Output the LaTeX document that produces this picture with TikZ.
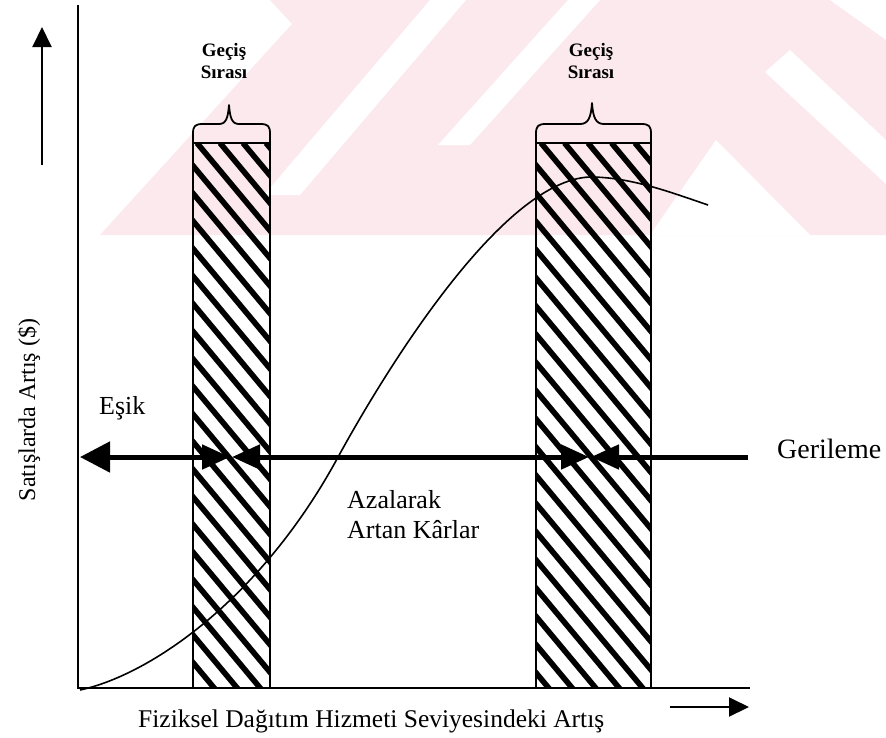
\documentclass[tikz,border=0pt]{standalone}
\usepackage{fontspec}
\setmainfont{Liberation Serif}
\usetikzlibrary{arrows.meta}
\definecolor{wmpink}{RGB}{252,233,237}
\tikzset{
  axisline/.style={line width=2.6pt},
  barframe/.style={line width=2.6pt},
  hatchline/.style={line width=5.6pt},
  bracepath/.style={line width=1.8pt, line join=round},
  mainarrow/.style={line width=5pt},
  smallarrow/.style={line width=2pt, -{Triangle[length=20pt,width=19pt]}},
  curveline/.style={line width=1.6pt},
  lbl/.style={font=\fontsize{26}{30}\selectfont, inner sep=0pt},
  smalllbl/.style={font=\bfseries\fontsize{19}{22}\selectfont, align=center, inner sep=0pt},
}
\begin{document}
\begin{tikzpicture}[x=1pt,y=-1pt]
\useasboundingbox (0,0) rectangle (886,737);
\fill[white] (0,0) rectangle (886,737);

% faint background emblem
\fill[wmpink] (100,235) -- (292,24) -- (270,0) -- (886,0) -- (886,235) -- cycle;
\fill[white] (430,0) -- (466,0) -- (300,195) -- (264,195) -- cycle;
\fill[white] (568,0) -- (600,0) -- (470,145) -- (438,145) -- cycle;
\fill[white] (716,140) -- (810,235) -- (650,235) -- cycle;
\fill[white] (765,72) -- (790,50) -- (886,140) -- (886,184) -- cycle;
\fill[white] (830,0) -- (886,0) -- (886,40) -- cycle;

% axes
\coordinate (O) at (78,688);
\coordinate (ytop) at (78,5);
\coordinate (xend) at (750,688);
\draw[axisline] (ytop) -- (O) -- (xend);

% direction arrows
\coordinate (ya) at (42,165);
\coordinate (yb) at (42,27);
\draw[smallarrow] (ya) -- (yb);
\coordinate (xa) at (670,707);
\coordinate (xb) at (749,707);
\draw[smallarrow] (xa) -- (xb);

% hatched bands
\begin{scope}
  \clip (193,143) rectangle (270,688);
  \foreach \i in {-25,...,4}
    \draw[hatchline] ({197+\i*23},143) -- ++(600,720);
\end{scope}
\draw[barframe] (193,688) -- (193,143) -- (270,143) -- (270,688);
\begin{scope}
  \clip (536,143) rectangle (651,688);
  \foreach \i in {-25,...,6}
    \draw[hatchline] ({541+\i*23.5},143) -- ++(600,720);
\end{scope}
\draw[barframe] (536,688) -- (536,143) -- (651,143) -- (651,688);

% braces above the bands
\draw[bracepath] (193,143) -- (193,134) .. controls (193,126) and (195,124) .. (203,124)
  -- (219,124) .. controls (226,124) and (228,118) .. (229,105)
  .. controls (230,118) and (232,124) .. (239,124) -- (260,124)
  .. controls (268,124) and (270,126) .. (270,134) -- (270,143);
\draw[bracepath] (536,143) -- (536,134) .. controls (536,126) and (538,124) .. (546,124)
  -- (580,124) .. controls (588,124) and (591,118) .. (592,103)
  .. controls (593,118) and (596,124) .. (604,124) -- (641,124)
  .. controls (649,124) and (651,126) .. (651,134) -- (651,143);

% response curve
\coordinate (c0) at (80,690);
\coordinate (c1) at (337,459);
\coordinate (c2) at (590,177);
\coordinate (c3) at (708,205);
\draw[curveline] (c0) .. controls (150,675) and (260,600) .. (c1)
  .. controls (380,380) and (500,180) .. (c2)
  .. controls (630,177) and (670,192) .. (c3);

% threshold / regression arrows
\coordinate (e1) at (80,457);
\coordinate (e2) at (230,457);
\coordinate (m1) at (232,457);
\coordinate (m2) at (589,457);
\coordinate (g1) at (591,457);
\coordinate (g2) at (748,457);
\draw[mainarrow, {Triangle[length=30pt,width=30pt]}-{Triangle[length=28pt,width=24pt]}] (e1) -- (e2);
\draw[mainarrow, {Triangle[length=28pt,width=24pt]}-{Triangle[length=28pt,width=24pt]}] (m1) -- (m2);
\draw[mainarrow, {Triangle[length=28pt,width=24pt]}-] (g1) -- (g2);

% labels
\node[smalllbl] (gs1) at (224,61) {Geçiş\\Sırası};
\node[smalllbl] (gs2) at (591,61) {Geçiş\\Sırası};
\node[lbl, anchor=base west] (esik) at (99,414) {Eşik};
\node[lbl, font=\fontsize{28}{30}\selectfont, anchor=base west] (geri) at (777,458) {Gerileme};
\node[lbl, anchor=base west] (az1) at (347,508) {Azalarak};
\node[lbl, anchor=base west] (az2) at (347,538) {Artan Kârlar};
\node[lbl, font=\fontsize{24}{28}\selectfont, rotate=90] (ylab) at (29,410) {Satışlarda Artış (\$)};
\node[lbl, font=\fontsize{25.5}{28}\selectfont, anchor=base west] (xlab) at (138,727) {Fiziksel Dağıtım Hizmeti Seviyesindeki Artış};
\end{tikzpicture}
\end{document}
